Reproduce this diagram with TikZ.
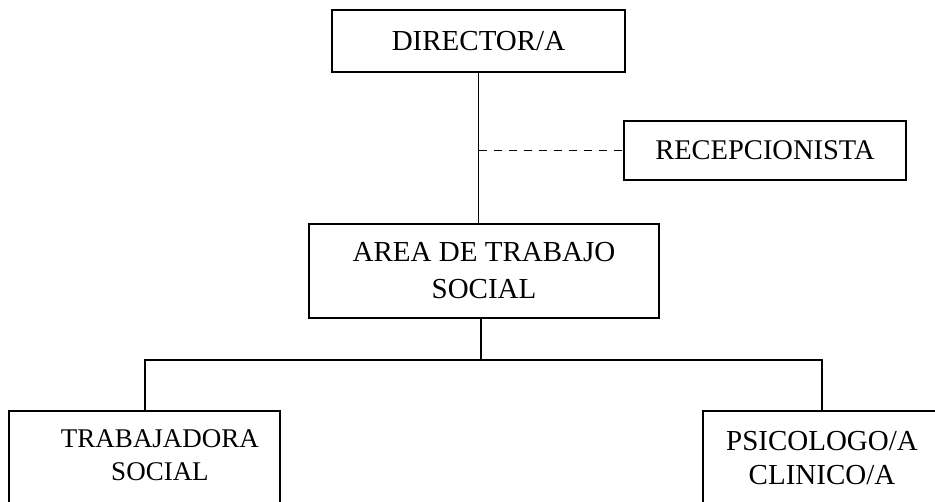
\documentclass[tikz,border=0pt]{standalone}
\usepackage{fontspec}
\setmainfont{Liberation Serif}
\usepackage{tikz}
\usetikzlibrary{positioning,calc}

\tikzset{
  orgbox/.style={draw,line width=1.8pt,rectangle,inner sep=0pt,align=center},
  orgline/.style={line width=1.8pt},
  bigtxt/.style={font=\fontsize{29}{37}\selectfont},
}

\begin{document}
\begin{tikzpicture}[x=1pt,y=-1pt]
  \useasboundingbox (0,0) rectangle (935,502);
  \clip (0,0) rectangle (935,502);
  % boxes
  \node[orgbox,bigtxt,minimum width=293pt,minimum height=62pt] (dir) at (478.5,41) {DIRECTOR/A};
  \node[orgbox,font=\fontsize{28.5}{34}\selectfont,minimum width=282pt,minimum height=59pt] (recep) at (765,150.5) {RECEPCIONISTA};
  \node[orgbox,bigtxt,minimum width=350pt,minimum height=94pt] (area) at (484,271) {AREA DE TRABAJO\\SOCIAL};
  \node[orgbox,minimum width=271pt,minimum height=150pt] (trab) at (144.5,486) {};
  \node[align=center,font=\fontsize{27}{33}\selectfont] (trabtxt) at (160,455) {TRABAJADORA\\SOCIAL};
  \node[orgbox,minimum width=260pt,minimum height=150pt] (psic) at (833,486) {};
  \node[align=center,font=\fontsize{29}{34}\selectfont] (psictxt) at (822,458) {PSICOLOGO/A\\CLINICO/A};
  % connectors
  \coordinate (forkL) at (145,360);
  \coordinate (fork) at (481,360);
  \coordinate (forkR) at (822,360);
  \draw[orgline] (dir.south) -- (dir.south |- area.north);
  \draw[orgline,dash pattern=on 8pt off 7pt] (dir.south |- recep.west) -- (recep.west);
  \draw[orgline] (fork |- area.south) -- (fork);
  \draw[orgline] (forkL |- trab.north) -- (forkL) -- (forkR) -- (forkR |- psic.north);
\end{tikzpicture}
\end{document}
